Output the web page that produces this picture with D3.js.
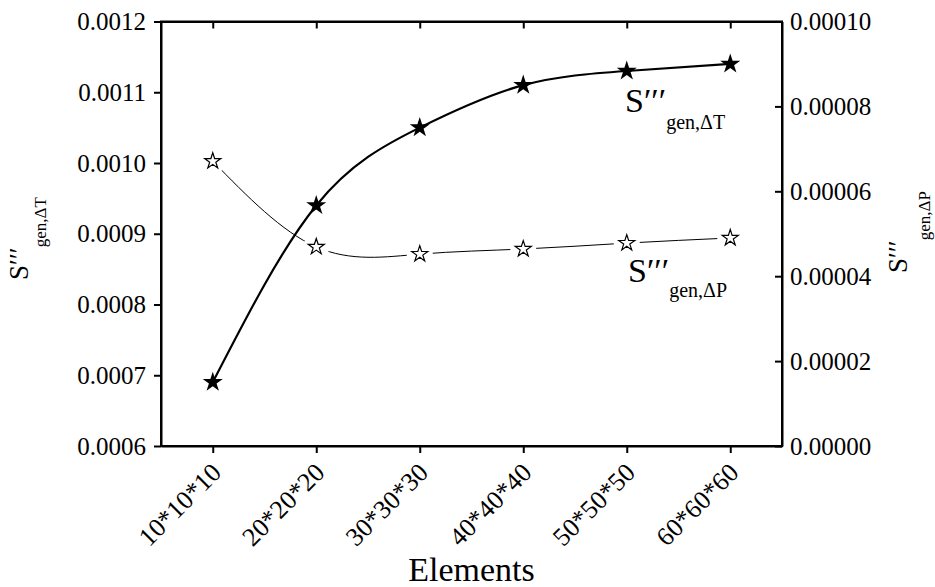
<!DOCTYPE html>
<html>
<head>
<meta charset="utf-8">
<script src="https://cdn.jsdelivr.net/npm/d3@7"></script>
<style>
  body { margin: 0; background: #fff; }
  svg text { font-family: "Liberation Serif", "Times New Roman", serif !important; fill: #000; }
  .axis path, .axis line { stroke: #000; stroke-width: 2; }
</style>
</head>
<body>
<script>
// ---- data ----
var categories = ["10*10*10", "20*20*20", "30*30*30", "40*40*40", "50*50*50", "60*60*60"];
var sGenDT = [0.00069, 0.00094, 0.00105, 0.00111, 0.00113, 0.00114];       // left axis
var sGenDP = [0.0000671, 0.0000469, 0.0000452, 0.0000464, 0.0000478, 0.000049]; // right axis
var leftTicks = [0.0006, 0.0007, 0.0008, 0.0009, 0.0010, 0.0011, 0.0012];
var rightTicks = [0, 0.00002, 0.00004, 0.00006, 0.00008, 0.00010];

// ---- layout ----
var width_outer = 935, height_outer = 587;
var plotLeft = 161, plotRight = 782, plotTop = 21.5, plotBottom = 446;
var tickLen = 7;
var serif = "'Liberation Serif', 'Times New Roman', serif";

var svg = d3.select("body").append("svg")
  .attr("width", width_outer)
  .attr("height", height_outer)
  .attr("font-family", serif);

// scales
var x = d3.scalePoint()
  .domain(categories)
  .range([plotLeft, plotRight])
  .padding(0.5);

var yL = d3.scaleLinear()
  .domain([0.0006, 0.0012])
  .range([plotBottom, plotTop]);

var yR = d3.scaleLinear()
  .domain([0, 0.0001])
  .range([plotBottom, plotTop]);

// axes
var xAxis = d3.axisBottom(x).tickSizeInner(tickLen).tickSizeOuter(0).tickFormat("");
var xTop = d3.axisTop(x).tickSizeInner(-tickLen).tickSizeOuter(0).tickFormat("");
var yAxisL = d3.axisLeft(yL).tickValues(leftTicks).tickSizeInner(tickLen).tickSizeOuter(0)
  .tickPadding(8).tickFormat(d3.format(".4f"));
var yAxisR = d3.axisRight(yR).tickValues(rightTicks).tickSizeInner(-tickLen).tickSizeOuter(0)
  .tickPadding(8).tickFormat(d3.format(".5f"));

function styleAxis(g) {
  g.attr("font-family", serif).attr("font-size", 25);
  g.selectAll("text").style("font-family", serif).style("font-size", "25px");
}

svg.append("g").attr("class", "x axis")
  .attr("transform", "translate(0," + plotBottom + ")")
  .call(xAxis);
svg.append("g").attr("class", "x axis top")
  .attr("transform", "translate(0," + plotTop + ")")
  .call(xTop);
svg.append("g").attr("class", "y axis left")
  .attr("transform", "translate(" + plotLeft + ",0)")
  .call(yAxisL)
  .call(styleAxis);
svg.append("g").attr("class", "y axis right")
  .attr("transform", "translate(" + plotRight + ",0)")
  .call(yAxisR)
  .call(styleAxis);

// frame lines so the corners meet
svg.append("path")
  .attr("d", "M" + plotLeft + "," + plotTop + "H" + plotRight + "V" + plotBottom + "H" + plotLeft + "Z")
  .attr("fill", "none").attr("stroke", "#000").attr("stroke-width", 2);

// rotated category labels, baseline end just right of the tick
svg.selectAll(".xlabel")
  .data(categories)
  .enter().append("text")
    .attr("class", "xlabel")
    .attr("transform", function(d) { return "translate(" + (x(d) + 10) + "," + (plotBottom + 28) + ") rotate(-45)"; })
    .attr("text-anchor", "end")
    .style("font-family", serif)
    .style("font-size", "26px")
    .text(function(d) { return d; });

svg.append("text")
  .attr("x", (plotLeft + plotRight) / 2)
  .attr("y", 581)
  .attr("text-anchor", "middle")
  .style("font-family", serif)
  .style("font-size", "34px")
  .text("Elements");

// ---- lines ----
var lineL = d3.line()
  .x(function(d, i) { return x(categories[i]); })
  .y(function(d) { return yL(d); })
  .curve(d3.curveNatural);
var lineR = d3.line()
  .x(function(d, i) { return x(categories[i]); })
  .y(function(d) { return yR(d); })
  .curve(d3.curveNatural);

svg.append("path")
  .datum(sGenDP)
  .attr("d", lineR)
  .attr("fill", "none").attr("stroke", "#000").attr("stroke-width", 1);

// white gaps round the open stars
svg.selectAll(".gap")
  .data(sGenDP)
  .enter().append("circle")
    .attr("class", "gap")
    .attr("cx", function(d, i) { return x(categories[i]); })
    .attr("cy", function(d) { return yR(d); })
    .attr("r", 13)
    .attr("fill", "#fff");

svg.append("path")
  .datum(sGenDT)
  .attr("d", lineL)
  .attr("fill", "none").attr("stroke", "#000").attr("stroke-width", 2.2);

// markers
var starBig = d3.symbol().type(d3.symbolStar).size(125);
var starSmall = d3.symbol().type(d3.symbolStar).size(80);

svg.selectAll(".starDT")
  .data(sGenDT)
  .enter().append("path")
    .attr("class", "starDT")
    .attr("transform", function(d, i) { return "translate(" + x(categories[i]) + "," + yL(d) + ")"; })
    .attr("d", starBig)
    .attr("fill", "#000");

svg.selectAll(".starDP")
  .data(sGenDP)
  .enter().append("path")
    .attr("class", "starDP")
    .attr("transform", function(d, i) { return "translate(" + x(categories[i]) + "," + yR(d) + ")"; })
    .attr("d", starSmall)
    .attr("fill", "#fff")
    .attr("stroke", "#000")
    .attr("stroke-width", 1.2);

// ---- series labels ----
function seriesLabel(g, sub, bigSize, subSize, subShift) {
  g.style("font-family", serif);
  g.append("tspan").style("font-size", bigSize + "px").text("S\u2032\u2032\u2032");
  g.append("tspan").style("font-size", subSize + "px").attr("dy", subShift).text(sub);
}

var labDT = svg.append("text").attr("x", 625).attr("y", 111.5);
seriesLabel(labDT, "gen,\u0394T", 34, 20, 17);
var labDP = svg.append("text").attr("x", 628).attr("y", 281.5);
seriesLabel(labDP, "gen,\u0394P", 34, 20, 15);

// axis titles (rotated)
var titleL = svg.append("text").attr("transform", "translate(28,280) rotate(-90)");
seriesLabel(titleL, "gen,\u0394T", 27, 17, 18);
var titleR = svg.append("text").attr("transform", "translate(906.5,273) rotate(-90)");
seriesLabel(titleR, "gen,\u0394P", 27, 17, 23);
</script>
</body>
</html>
